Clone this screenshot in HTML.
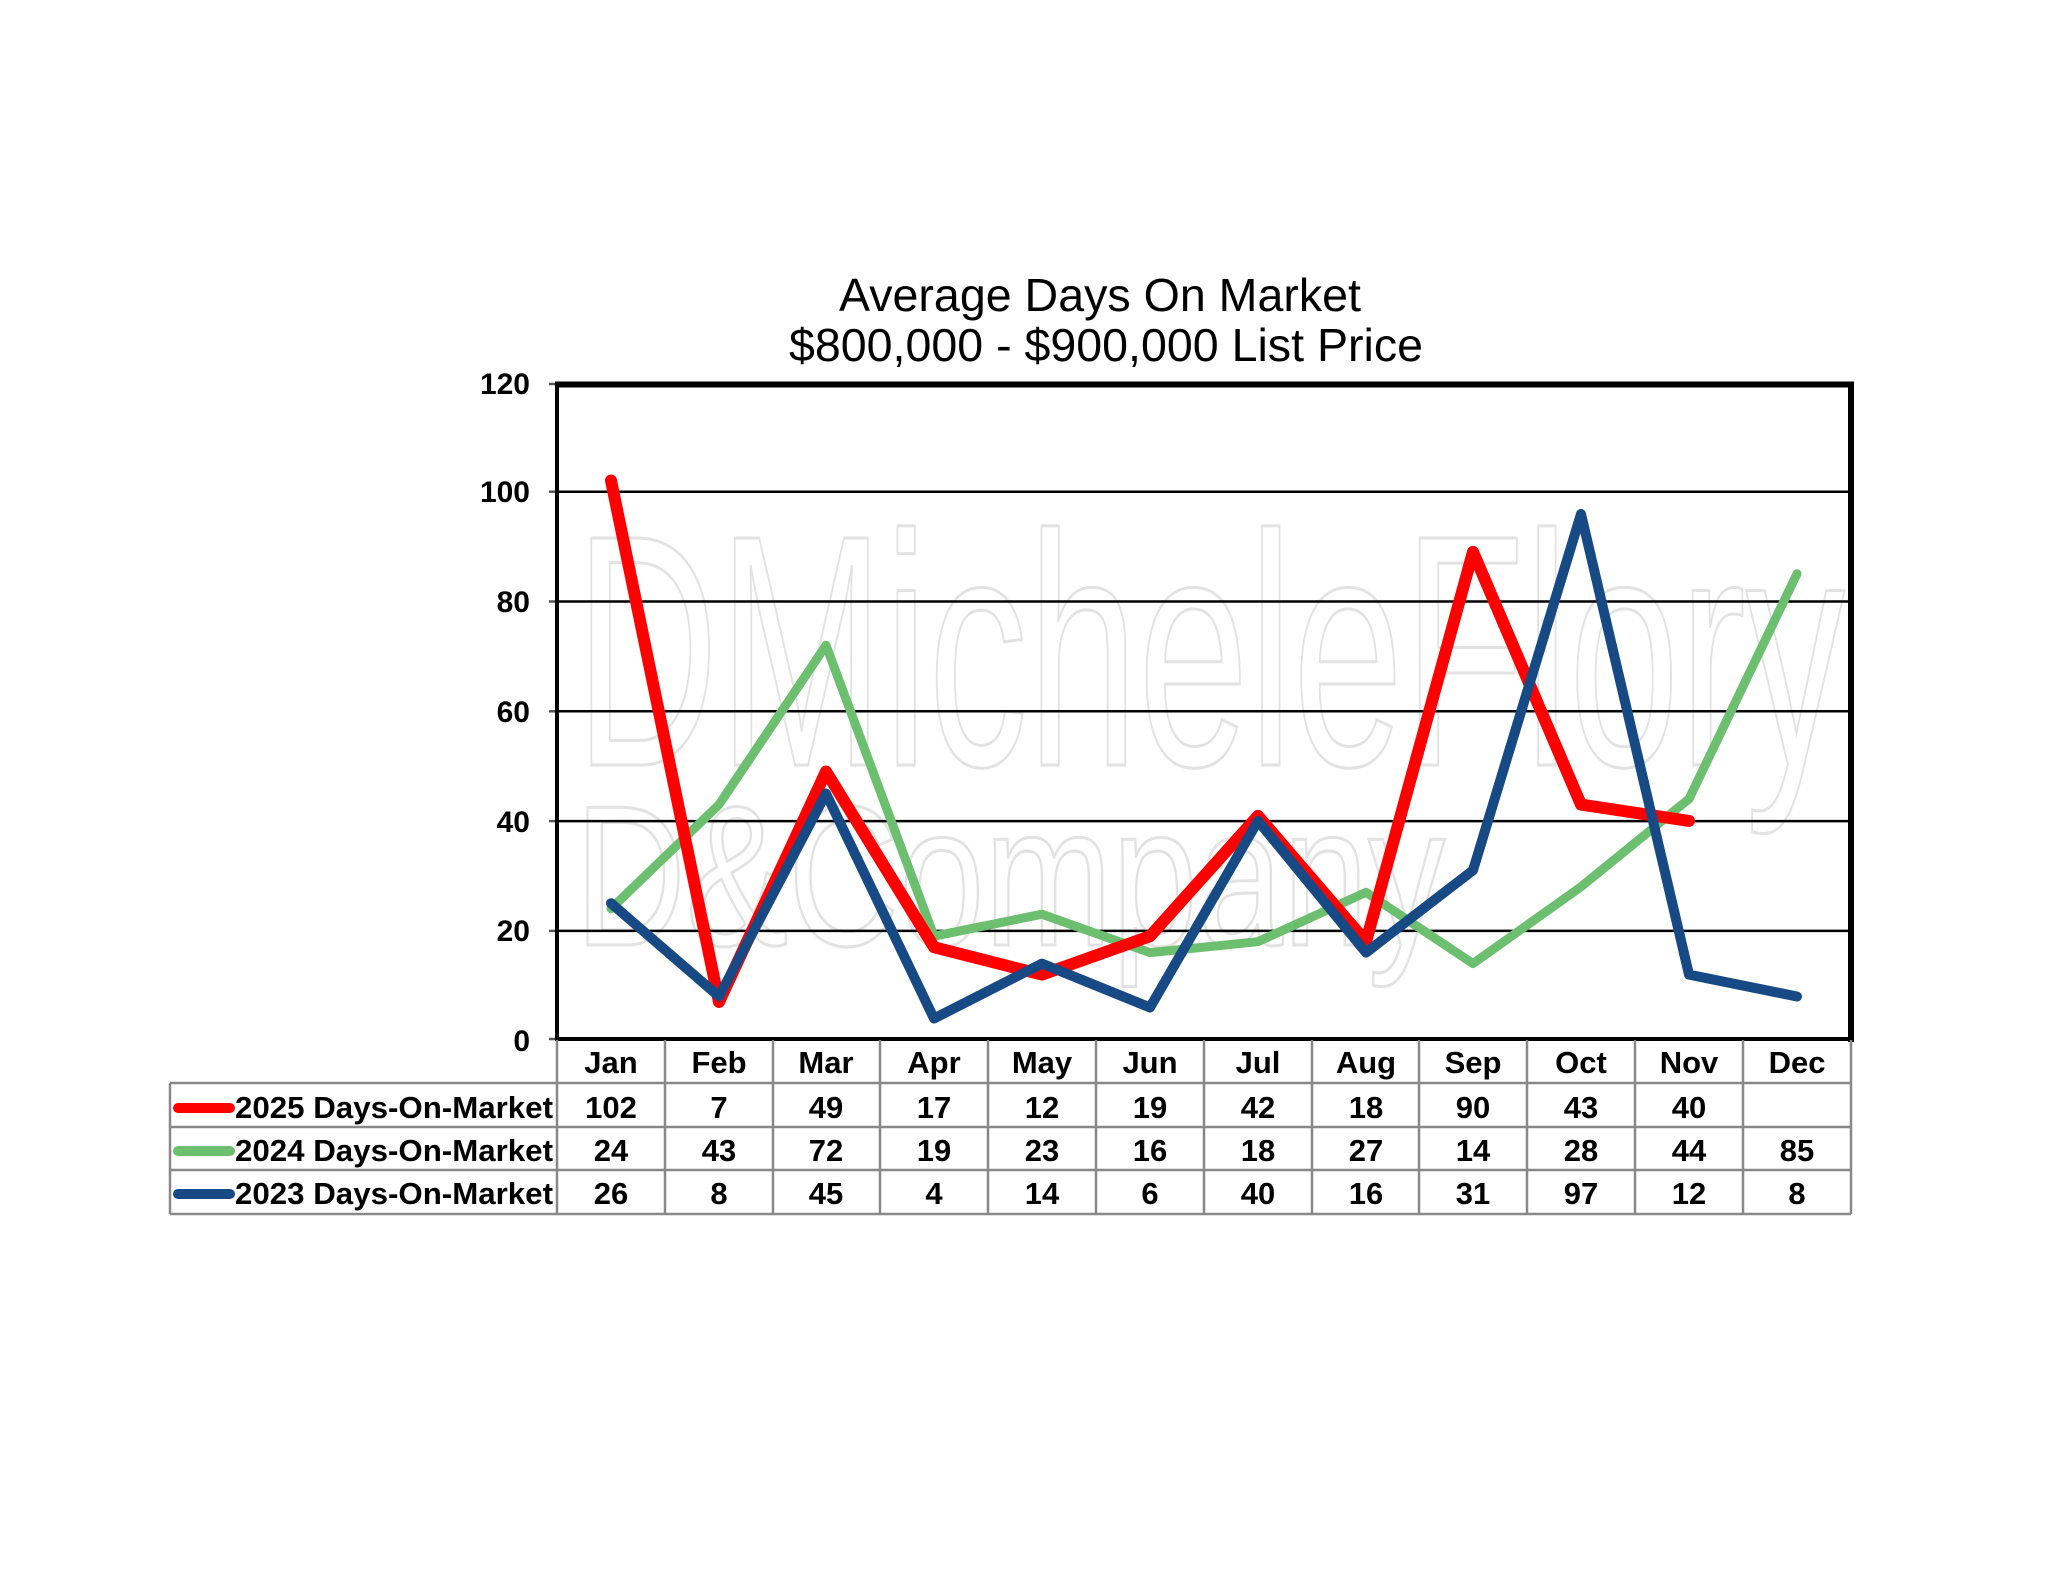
<!DOCTYPE html>
<html><head><meta charset="utf-8"><style>
html,body{margin:0;padding:0;background:#fff;}
svg{display:block;}
text{font-family:"Liberation Sans",Arial,sans-serif;}
</style></head><body>
<svg width="2048" height="1583" viewBox="0 0 2048 1583" xmlns="http://www.w3.org/2000/svg">
<rect width="2048" height="1583" fill="#fff"/>
<!-- title -->
<text x="1100" y="311" font-size="46" text-anchor="middle" textLength="522" lengthAdjust="spacingAndGlyphs">Average Days On Market</text>
<text x="1106" y="361" font-size="46" text-anchor="middle" textLength="634" lengthAdjust="spacingAndGlyphs">$800,000 - $900,000 List Price</text>
<!-- watermark -->
<g fill="none" stroke="#e2e2e2" stroke-width="3">
<text x="575" y="765" font-size="330" textLength="1270" lengthAdjust="spacingAndGlyphs">DMicheleFlory</text>
<text x="575" y="945" font-size="200" textLength="870" lengthAdjust="spacingAndGlyphs">D&amp;Company</text>
</g>
<!-- gridlines -->
<g stroke="#000" stroke-width="2.5">
<line x1="557" y1="491.7" x2="1851" y2="491.7"/>
<line x1="557" y1="601.5" x2="1851" y2="601.5"/>
<line x1="557" y1="711.3" x2="1851" y2="711.3"/>
<line x1="557" y1="821.1" x2="1851" y2="821.1"/>
<line x1="557" y1="930.9" x2="1851" y2="930.9"/>
</g>
<!-- ticks -->
<g stroke="#555" stroke-width="2.5">
<line x1="549" y1="384" x2="557" y2="384"/>
<line x1="549" y1="491.7" x2="557" y2="491.7"/>
<line x1="549" y1="601.5" x2="557" y2="601.5"/>
<line x1="549" y1="711.3" x2="557" y2="711.3"/>
<line x1="549" y1="821.1" x2="557" y2="821.1"/>
<line x1="549" y1="930.9" x2="557" y2="930.9"/>
<line x1="549" y1="1039" x2="557" y2="1039"/>
</g>
<!-- plot frame -->
<line x1="557" y1="384" x2="557" y2="1040" stroke="#000" stroke-width="4"/>
<line x1="555" y1="384.5" x2="1854" y2="384.5" stroke="#000" stroke-width="6"/>
<line x1="1851" y1="382" x2="1851" y2="1042" stroke="#000" stroke-width="6"/>
<line x1="555" y1="1039" x2="1854" y2="1039" stroke="#000" stroke-width="4"/>
<!-- y labels -->
<g font-size="30" font-weight="bold" text-anchor="end">
<text x="530" y="394">120</text>
<text x="530" y="502">100</text>
<text x="530" y="612">80</text>
<text x="530" y="722">60</text>
<text x="530" y="832">40</text>
<text x="530" y="941">20</text>
<text x="530" y="1051">0</text>
</g>
<!-- series -->
<g fill="none" stroke-linejoin="round" stroke-linecap="round">
<polyline stroke="#6cbf6f" stroke-width="9" points="611,908.7 719,804.6 826,645.2 934,936.2 1042,914.2 1150,952.6 1258,941.7 1366,892.3 1473,963.6 1581,886.8 1689,798.9 1797,573.8"/>
<polyline stroke="#ff0000" stroke-width="12" points="611,480.5 719,1002 826,771.5 934,947.2 1042,974.6 1150,936.2 1258,815.9 1366,941.7 1473,551.9 1581,804.6 1689,820.9"/>
<polyline stroke="#174a85" stroke-width="10" points="611,903.2 719,996.5 826,793.5 934,1018.5 1042,963.6 1150,1007.5 1258,820.9 1366,952.6 1473,870.3 1581,514 1689,974.6 1797,996.5"/>
</g>
<!-- table grid -->
<g stroke="#888" stroke-width="2.5" fill="none">
<line x1="170" y1="1083" x2="1851" y2="1083"/>
<line x1="170" y1="1127" x2="1851" y2="1127"/>
<line x1="170" y1="1170" x2="1851" y2="1170"/>
<line x1="170" y1="1214" x2="1851" y2="1214"/>
<line x1="170" y1="1083" x2="170" y2="1214"/>
<line x1="557" y1="1040" x2="557" y2="1214"/>
<line x1="665" y1="1040" x2="665" y2="1214"/>
<line x1="773" y1="1040" x2="773" y2="1214"/>
<line x1="880" y1="1040" x2="880" y2="1214"/>
<line x1="988" y1="1040" x2="988" y2="1214"/>
<line x1="1096" y1="1040" x2="1096" y2="1214"/>
<line x1="1204" y1="1040" x2="1204" y2="1214"/>
<line x1="1312" y1="1040" x2="1312" y2="1214"/>
<line x1="1419" y1="1040" x2="1419" y2="1214"/>
<line x1="1527" y1="1040" x2="1527" y2="1214"/>
<line x1="1635" y1="1040" x2="1635" y2="1214"/>
<line x1="1743" y1="1040" x2="1743" y2="1214"/>
<line x1="1851" y1="1040" x2="1851" y2="1214"/>
</g>
<!-- legend -->
<g stroke-linecap="round" stroke-width="10">
<line x1="178" y1="1108" x2="230" y2="1108" stroke="#ff0000"/>
<line x1="178" y1="1151" x2="230" y2="1151" stroke="#6cbf6f"/>
<line x1="178" y1="1194" x2="230" y2="1194" stroke="#174a85"/>
</g>
<g font-size="31" font-weight="bold">
<text x="235" y="1118" textLength="318" lengthAdjust="spacingAndGlyphs">2025 Days-On-Market</text>
<text x="235" y="1161" textLength="318" lengthAdjust="spacingAndGlyphs">2024 Days-On-Market</text>
<text x="235" y="1204" textLength="318" lengthAdjust="spacingAndGlyphs">2023 Days-On-Market</text>
</g>
<g font-size="31" font-weight="bold" text-anchor="middle">
<text x="611" y="1073">Jan</text><text x="719" y="1073">Feb</text><text x="826" y="1073">Mar</text><text x="934" y="1073">Apr</text><text x="1042" y="1073">May</text><text x="1150" y="1073">Jun</text><text x="1258" y="1073">Jul</text><text x="1366" y="1073">Aug</text><text x="1473" y="1073">Sep</text><text x="1581" y="1073">Oct</text><text x="1689" y="1073">Nov</text><text x="1797" y="1073">Dec</text>
<text x="611" y="1118">102</text><text x="719" y="1118">7</text><text x="826" y="1118">49</text><text x="934" y="1118">17</text><text x="1042" y="1118">12</text><text x="1150" y="1118">19</text><text x="1258" y="1118">42</text><text x="1366" y="1118">18</text><text x="1473" y="1118">90</text><text x="1581" y="1118">43</text><text x="1689" y="1118">40</text>
<text x="611" y="1161">24</text><text x="719" y="1161">43</text><text x="826" y="1161">72</text><text x="934" y="1161">19</text><text x="1042" y="1161">23</text><text x="1150" y="1161">16</text><text x="1258" y="1161">18</text><text x="1366" y="1161">27</text><text x="1473" y="1161">14</text><text x="1581" y="1161">28</text><text x="1689" y="1161">44</text><text x="1797" y="1161">85</text>
<text x="611" y="1204">26</text><text x="719" y="1204">8</text><text x="826" y="1204">45</text><text x="934" y="1204">4</text><text x="1042" y="1204">14</text><text x="1150" y="1204">6</text><text x="1258" y="1204">40</text><text x="1366" y="1204">16</text><text x="1473" y="1204">31</text><text x="1581" y="1204">97</text><text x="1689" y="1204">12</text><text x="1797" y="1204">8</text>
</g>
</svg>
</body></html>
